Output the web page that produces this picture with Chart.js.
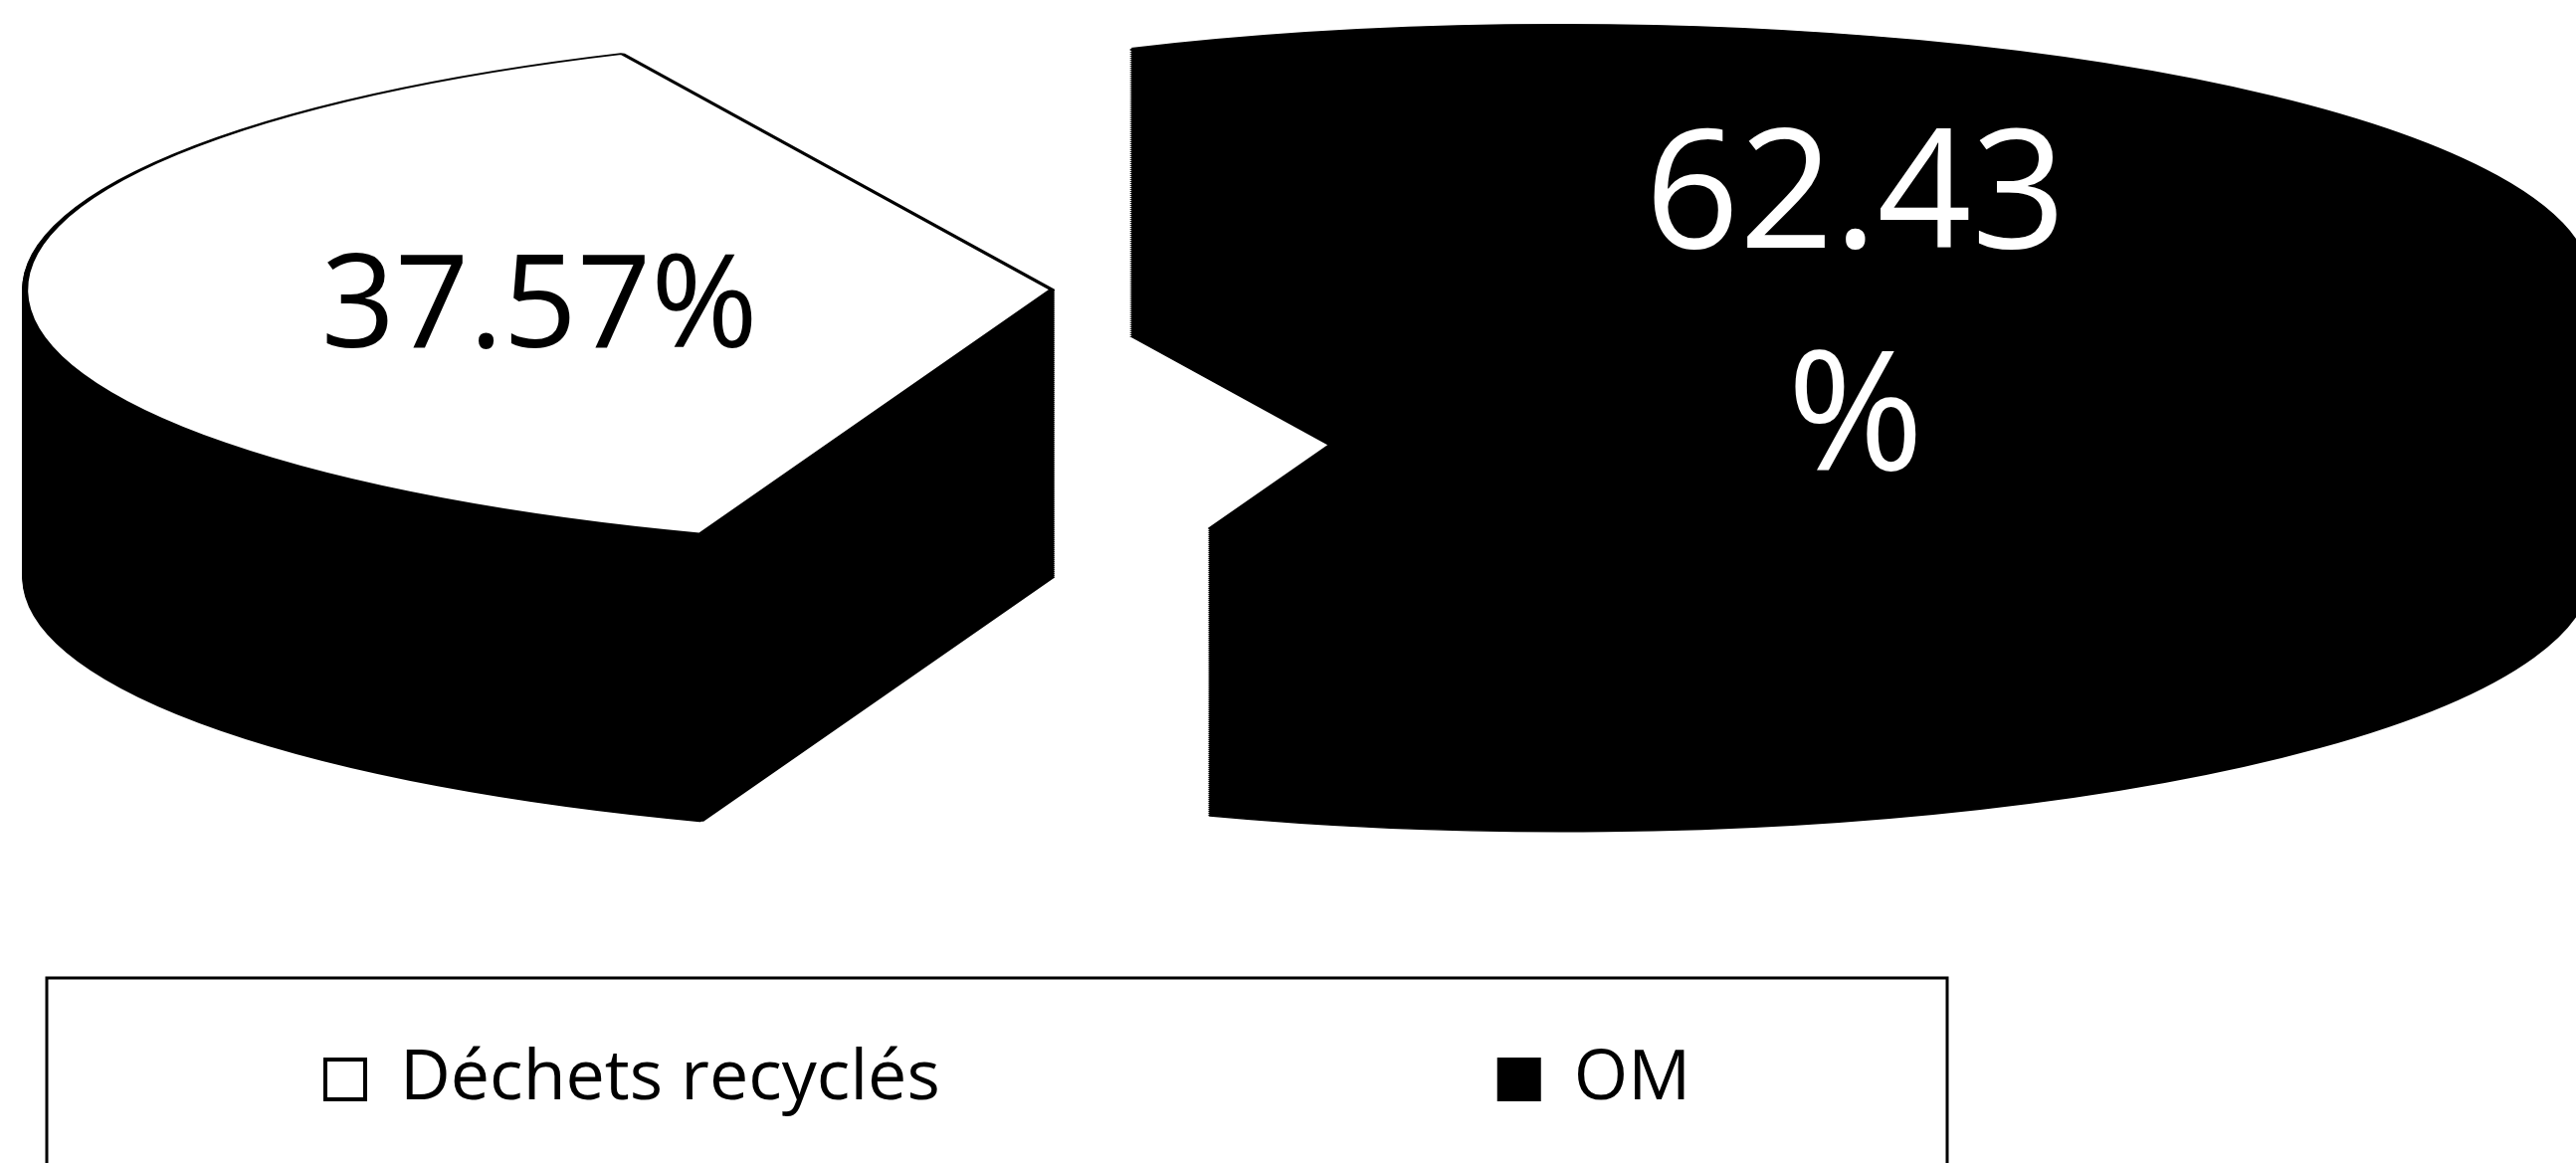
<!DOCTYPE html>
<html lang="fr">
<head>
<meta charset="utf-8">
<title>Déchets recyclés / OM</title>
<script src="https://cdn.jsdelivr.net/npm/chart.js@4/dist/chart.umd.min.js"></script>
<style>
  html, body { margin: 0; background: #fff; }
  canvas { display: block; }
</style>
</head>
<body>
<canvas id="pie" width="2589" height="1169"></canvas>
<script>
// Data
const categories = ['Déchets recyclés', 'OM'];
const percents = [37.57, 62.43];
const sliceLabels = [['37.57%'], ['62.43', '%']];
const sliceColors = ['#fff', '#000'];

// Fake 3D look: squashed pie, extruded downwards, slices pushed apart
const SQUASH = 0.253, DEPTH = 289, RADIUS = 1032;
const EXPLODE = [250, 263];
const FONT = '"Open Sans", sans-serif';
const LEGEND_PAD = 562;

// position of each value label, relative to the slice centre (in px), and its font size
const labelSpots = [
  { dx: -515, dy: 21, size: 130, lines: 0, color: '#000' },
  { dx: 295, dy: -84, size: 166, lines: 223, color: '#fff' }
];

const pie3d = {
  id: 'pie3d',
  afterLayout(chart) {
    // the legend sits inside a frame, so it goes where the frame is
    const lg = chart.legend;
    lg.left = 327 - LEGEND_PAD;
    lg.top = 1050 - LEGEND_PAD;
    lg.right = chart.width;
    lg.bottom = chart.height;
  },
  beforeDatasetsDraw(chart) {
    const ctx = chart.ctx;
    chart.getDatasetMeta(0).data.forEach((arc, i) => {
      const mid = (arc.startAngle + arc.endAngle) / 2;
      const ox = Math.cos(mid) * EXPLODE[i], oy = Math.sin(mid) * EXPLODE[i];
      const face = arc.options;
      const side = Object.assign(Object.create(face), { backgroundColor: '#000', borderColor: '#000' });

      const drawAt = lift => {
        ctx.save();
        ctx.translate(ox, arc.y + oy * SQUASH + lift);
        ctx.scale(1, SQUASH);
        ctx.translate(0, -arc.y);
        arc.draw(ctx);
        ctx.restore();
      };

      arc.options = side;
      for (let d = DEPTH; d > 0; d -= 2) drawAt(d);
      arc.options = face;
      drawAt(0);

      // value label
      const s = labelSpots[i];
      ctx.save();
      ctx.fillStyle = s.color;
      ctx.font = `${s.size}px ${FONT}`;
      ctx.textAlign = 'center';
      ctx.textBaseline = 'middle';
      sliceLabels[i].forEach((t, n) => {
        ctx.fillText(t, arc.x + ox + s.dx, arc.y + oy * SQUASH + s.dy + n * s.lines);
      });
      ctx.restore();
    });

    // legend frame, runs off the bottom of the picture like the original
    ctx.save();
    ctx.strokeStyle = '#000';
    ctx.lineWidth = 3;
    ctx.strokeRect(47, 983, 1910, 400);
    ctx.restore();
    return false;
  }
};

new Chart(document.getElementById('pie'), {
  type: 'pie',
  data: {
    labels: categories,
    datasets: [{
      data: percents,
      backgroundColor: sliceColors,
      borderColor: '#000',
      borderWidth: 6
    }]
  },
  options: {
    responsive: false,
    animation: false,
    rotation: 200,
    radius: RADIUS,
    layout: { padding: { left: 25, bottom: 591 } },
    plugins: {
      tooltip: { enabled: false },
      legend: {
        position: 'bottom',
        align: 'start',
        maxHeight: 1,
        labels: {
          boxWidth: 40,
          boxHeight: 40,
          padding: LEGEND_PAD,
          color: '#000',
          font: { family: FONT, size: 70 },
          generateLabels: c => Chart.overrides.pie.plugins.legend.labels.generateLabels(c)
            .map(it => ({ ...it, lineWidth: 4 }))
        }
      }
    }
  },
  plugins: [pie3d]
});
</script>
</body>
</html>
